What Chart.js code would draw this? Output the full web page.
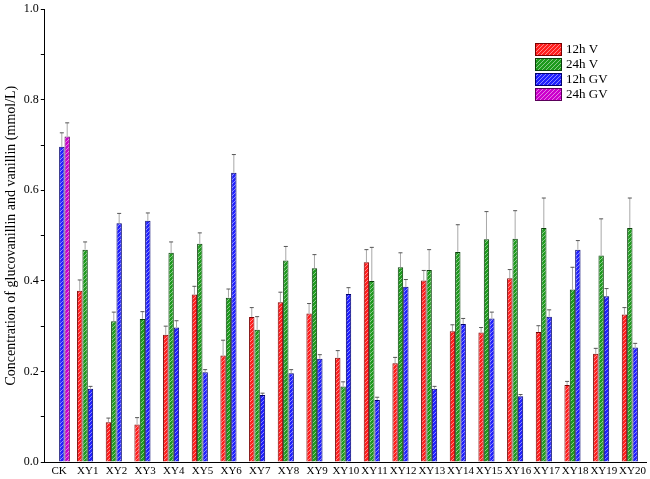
<!DOCTYPE html>
<html>
<head>
<title>glucovanillin and vanillin</title>
<script src="https://cdn.jsdelivr.net/npm/chart.js"></script>
<style>
  html, body { margin: 0; padding: 0; background: #fff; }
  #wrap { width: 650px; height: 479px; }
</style>
</head>
<body>
<div id="wrap"><canvas id="myChart"></canvas></div>
<script>
// categories
const labels = ['CK', 'XY1', 'XY2', 'XY3', 'XY4', 'XY5', 'XY6', 'XY7', 'XY8', 'XY9', 'XY10',
  'XY11', 'XY12', 'XY13', 'XY14', 'XY15', 'XY16', 'XY17', 'XY18', 'XY19', 'XY20'];

// values (mmol/L)
const v12 = [null, 0.378, 0.088, 0.083, 0.281, 0.370, 0.235, 0.320, 0.353, 0.328, 0.230,
  0.441, 0.218, 0.401, 0.289, 0.286, 0.406, 0.287, 0.170, 0.239, 0.326];
const v24 = [null, 0.469, 0.311, 0.316, 0.462, 0.482, 0.363, 0.292, 0.445, 0.428, 0.167,
  0.400, 0.430, 0.424, 0.464, 0.492, 0.493, 0.517, 0.381, 0.456, 0.517];
const gv12 = [0.696, 0.162, 0.527, 0.533, 0.297, 0.198, 0.639, 0.148, 0.196, 0.228, 0.371,
  0.137, 0.387, 0.162, 0.305, 0.317, 0.145, 0.321, 0.469, 0.366, 0.253];
const gv24 = [0.719, null, null, null, null, null, null, null, null, null, null,
  null, null, null, null, null, null, null, null, null, null];

// error bars (upper)
const e12 = [null, 0.024, 0.009, 0.015, 0.019, 0.018, 0.034, 0.021, 0.022, 0.022, 0.016,
  0.028, 0.013, 0.022, 0.014, 0.011, 0.019, 0.014, 0.008, 0.012, 0.015];
const e24 = [null, 0.017, 0.020, 0.016, 0.024, 0.024, 0.019, 0.029, 0.031, 0.030, 0.010,
  0.074, 0.032, 0.045, 0.060, 0.061, 0.062, 0.066, 0.049, 0.081, 0.066];
const eg12 = [0.031, 0.005, 0.022, 0.017, 0.015, 0.006, 0.040, 0.004, 0.008, 0.009, 0.014,
  0.006, 0.016, 0.005, 0.012, 0.014, 0.004, 0.015, 0.020, 0.017, 0.009];
const eg24 = [0.030, null, null, null, null, null, null, null, null, null, null,
  null, null, null, null, null, null, null, null, null, null];

const seriesNames = ['12h V', '24h V', '12h GV', '24h GV'];
const fills = ['#ff1e1e', '#1e9a1e', '#2020ff', '#cc00cc'];
const borders = ['#7a0000', '#0a400a', '#00006e', '#5a005a'];

function hatch(color) {
  const c = document.createElement('canvas');
  c.width = 4; c.height = 4;
  const g = c.getContext('2d');
  g.fillStyle = color;
  g.fillRect(0, 0, 4, 4);
  g.strokeStyle = 'rgba(255,255,255,0.6)';
  g.lineWidth = 0.8;
  g.beginPath();
  g.moveTo(0, 4); g.lineTo(4, 0);
  g.moveTo(-1, 1); g.lineTo(1, -1);
  g.moveTo(3, 5); g.lineTo(5, 3);
  g.stroke();
  return g.createPattern(c, 'repeat');
}

const patterns = fills.map(hatch);
const errs = [e12, e24, eg12, eg24];

const errorBars = {
  id: 'errorBars',
  afterDatasetsDraw(chart) {
    const ctx = chart.ctx;
    const y = chart.scales.y;
    ctx.save();
    chart.data.datasets.forEach((ds, di) => {
      const meta = chart.getDatasetMeta(di);
      meta.data.forEach((bar, i) => {
        const v = ds.data[i];
        const e = errs[di][i];
        if (v == null || e == null) return;
        const top = y.getPixelForValue(v + e);
        const base = y.getPixelForValue(v);
        ctx.strokeStyle = '#a8a8a8';
        ctx.lineWidth = 1;
        ctx.beginPath();
        ctx.moveTo(bar.x, base);
        ctx.lineTo(bar.x, top);
        ctx.stroke();
        ctx.strokeStyle = '#555';
        ctx.beginPath();
        ctx.moveTo(bar.x - 2, top);
        ctx.lineTo(bar.x + 2, top);
        ctx.stroke();
      });
    });
    ctx.restore();
  }
};

const boxLegend = {
  id: 'boxLegend',
  afterDraw(chart) {
    const ctx = chart.ctx;
    ctx.save();
    ctx.font = '13px "Liberation Serif"';
    ctx.textBaseline = 'middle';
    seriesNames.forEach((name, i) => {
      const x = 535, yy = 43 + i * 15;
      ctx.fillStyle = patterns[i];
      ctx.fillRect(x, yy, 27, 13);
      ctx.strokeStyle = borders[i];
      ctx.lineWidth = 1;
      ctx.strokeRect(x + 0.5, yy + 0.5, 26, 12);
      ctx.fillStyle = '#000';
      ctx.fillText(name, 566, yy + 7);
    });
    ctx.restore();
  }
};

const ctx = document.getElementById('myChart').getContext('2d');
new Chart(ctx, {
  type: 'bar',
  data: {
    labels: labels,
    datasets: [v12, v24, gv12, gv24].map((d, i) => ({
      label: seriesNames[i],
      data: d,
      backgroundColor: patterns[i],
      borderColor: borders[i],
      borderWidth: 1,
      categoryPercentage: 0.75,
      barPercentage: 1.0
    }))
  },
  options: {
    responsive: true,
    maintainAspectRatio: false,
    animation: false,
    layout: { padding: { top: -2, right: 2, left: 3, bottom: -2 } },
    plugins: {
      legend: { display: false },
      tooltip: { enabled: false }
    },
    scales: {
      x: {
        grid: { display: false, drawTicks: false },
        border: { color: '#000', width: 1 },
        ticks: {
          autoSkip: false,
          maxRotation: 0,
          padding: 4,
          color: '#000',
          font: { family: '"Liberation Serif"', size: 11, lineHeight: 1 }
        }
      },
      y: {
        min: 0,
        max: 1.0,
        grid: { drawOnChartArea: false, tickLength: 4, tickColor: '#000' },
        border: { color: '#000', width: 1 },
        ticks: {
          stepSize: 0.1,
          padding: 2,
          color: '#000',
          font: { family: '"Liberation Serif"', size: 12 },
          callback: (v) => (Math.round(v * 10) % 2 === 0 ? v.toFixed(1) : '')
        },
        title: {
          display: true,
          text: 'Concentration of glucovanillin and vanillin (mmol/L)',
          color: '#000',
          padding: { top: 0, bottom: 2 },
          font: { family: '"Liberation Serif"', size: 14 }
        }
      }
    }
  },
  plugins: [errorBars, boxLegend]
});
</script>
</body>
</html>
